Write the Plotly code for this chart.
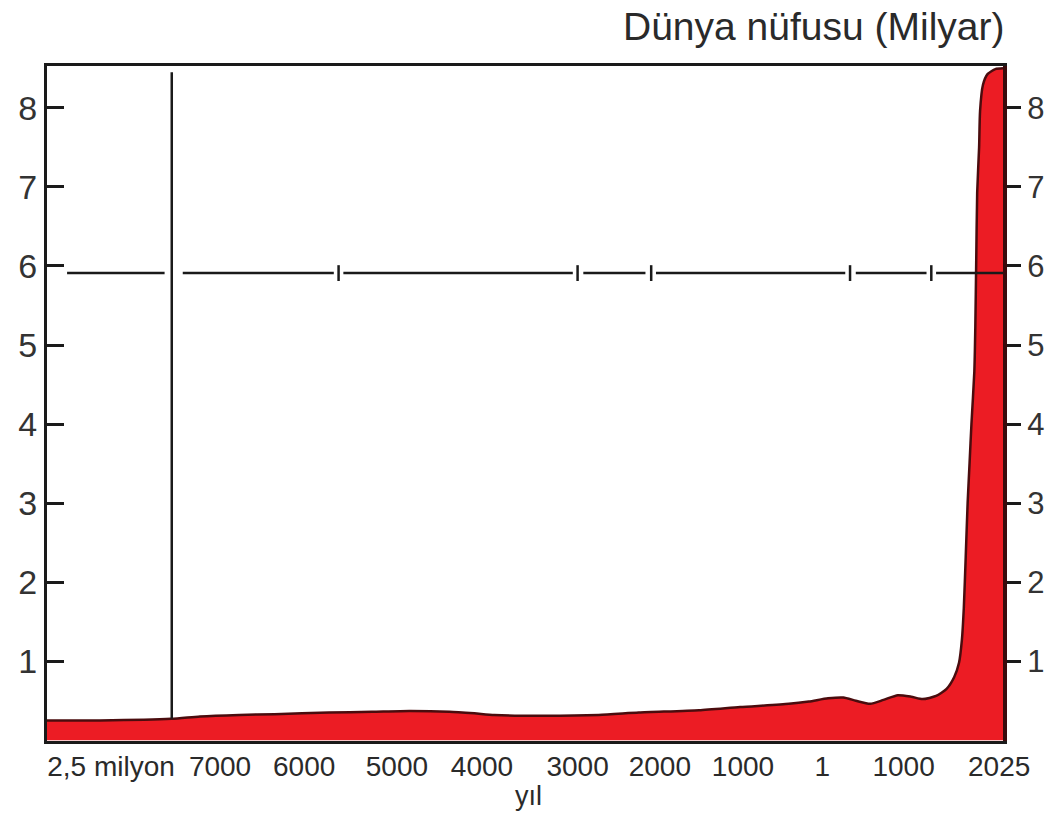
import plotly.graph_objects as go

# ---------------- data ----------------
# schematic (non-linear) time axis: 0 .. 100
tick_pos = [6.7, 18.1, 26.9, 36.6, 45.5, 55.5, 64.1, 72.8, 81.1, 89.6, 99.6]
tick_text = ["2,5 milyon", "7000", "6000", "5000", "4000", "3000", "2000",
             "1000", "1", "1000", "2025"]

curve_x = [0.0, 5.5, 13.0, 16.0, 20.1, 23.8, 29.5, 34.0, 37.9, 42.1, 44.7, 46.8,
           51.5, 57.7, 61.9, 68.2, 72.5, 77.6, 79.7, 81.7, 83.3, 84.6, 86.1, 87.5,
           89.0, 90.4, 91.6, 93.0, 94.1, 94.9, 95.4, 95.7, 95.9, 96.1, 96.3, 96.5,
           96.7, 97.0, 97.1, 97.2, 97.3, 97.5, 97.6, 97.9, 98.4, 99.2, 100.0]
curve_y = [0.25, 0.25, 0.27, 0.30, 0.32, 0.33, 0.35, 0.36, 0.37, 0.36, 0.34, 0.32,
           0.31, 0.32, 0.35, 0.38, 0.42, 0.46, 0.49, 0.53, 0.54, 0.50, 0.46, 0.51,
           0.57, 0.55, 0.52, 0.56, 0.65, 0.80, 0.98, 1.27, 1.67, 2.32, 3.0, 3.5,
           4.0, 4.66, 5.2, 6.07, 6.93, 7.5, 7.96, 8.29, 8.43, 8.49, 8.50]

# decorative reference line (~6 milyar) with its breaks and small marks
hline_y = 5.91
hline_segments = [(2.1, 12.3), (14.2, 30.0), (31.0, 55.0), (56.1, 62.6),
                  (63.7, 83.5), (84.6, 92.0), (93.0, 100.0)]
hline_marks = [30.5, 55.5, 63.2, 84.0, 92.5]
mark_half = 0.1

# vertical separator (2,5 milyon | 8000 BC)
vline_x = 13.05
vline_y = [0.27, 8.45]

y_ticks = [1, 2, 3, 4, 5, 6, 7, 8]

# ---------------- figure ----------------
fig = go.Figure()

fig.add_trace(go.Scatter(
    x=curve_x, y=curve_y, mode="lines", fill="tozeroy",
    fillcolor="#ec1c24",
    line=dict(color="#4a0c0e", width=2.5, shape="spline", smoothing=0.6),
    hoverinfo="skip", showlegend=False))

hx, hy = [], []
for a, b in hline_segments:
    hx += [a, b, None]
    hy += [hline_y, hline_y, None]
for m in hline_marks:
    hx += [m, m, None]
    hy += [hline_y - mark_half, hline_y + mark_half, None]
fig.add_trace(go.Scatter(x=hx, y=hy, mode="lines",
                         line=dict(color="#1a1a1a", width=2.5),
                         hoverinfo="skip", showlegend=False))

fig.add_trace(go.Scatter(x=[vline_x, vline_x], y=vline_y, mode="lines",
                         line=dict(color="#1a1a1a", width=2.5),
                         hoverinfo="skip", showlegend=False, yaxis="y2"))

font_family = "Liberation Sans, Arial, sans-serif"
yr = [-0.01, 8.53]

fig.update_layout(
    width=1056, height=813,
    margin=dict(l=47, r=51, t=66, b=72),
    paper_bgcolor="white", plot_bgcolor="white",
    font=dict(family=font_family, color="#2a2a2a"),
    xaxis=dict(range=[0, 100], tickmode="array", tickvals=tick_pos,
               ticktext=tick_text, ticks="", showgrid=False, zeroline=False,
               showline=True, mirror=True, linecolor="#1a1a1a", linewidth=3,
               tickfont=dict(size=28, color="#2a2a2a"), ticklabelstandoff=-2),
    yaxis=dict(range=yr, tickmode="array", tickvals=y_ticks,
               ticks="inside", ticklen=17, tickwidth=3, tickcolor="#1a1a1a",
               showgrid=False, zeroline=False, showline=True,
               linecolor="#1a1a1a", linewidth=3,
               tickfont=dict(size=34, color="#333333")),
    yaxis2=dict(range=yr, overlaying="y", side="right", tickmode="array",
                tickvals=y_ticks, ticks="outside", ticklen=14, tickwidth=3,
                tickcolor="#1a1a1a", showgrid=False, zeroline=False,
                showline=True, linecolor="#3a0a0c", linewidth=4,
                tickfont=dict(size=31, color="#333333")),
    annotations=[
        dict(text="Dünya nüfusu (Milyar)", xref="paper", yref="paper",
             x=1.003, y=1.058, xanchor="right", yanchor="middle",
             showarrow=False, font=dict(size=39, color="#2a2a2a")),
        dict(text="yıl", xref="paper", yref="paper", x=0.504, y=-0.082,
             xanchor="center", yanchor="middle", showarrow=False,
             font=dict(size=27, color="#2a2a2a")),
    ],
)

fig.write_html(
    "out.html",
    config={"displayModeBar": False},
    post_script="document.body.style.margin='0';document.body.style.overflow='hidden';",
)
